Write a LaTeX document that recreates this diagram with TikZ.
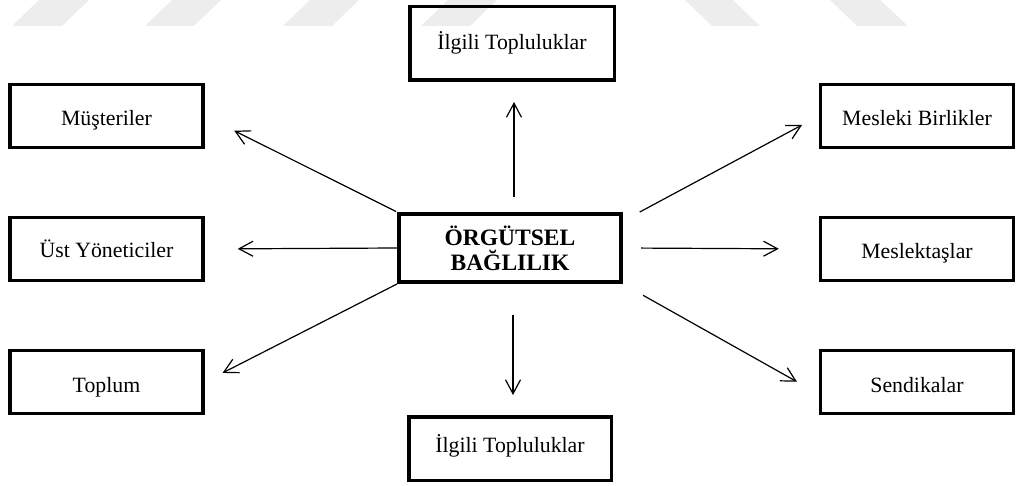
\documentclass[tikz,border=0pt]{standalone}
\usepackage{fontspec}
\setmainfont{Liberation Serif}
\usetikzlibrary{arrows.meta}
\begin{document}
\begin{tikzpicture}[x=1pt,y=-1pt,
  wm/.style={fill=black!7, draw=none},
  box/.style={draw, line width=3.5pt, inner sep=0pt,
    minimum width=193pt, minimum height=63pt,
    text height=20pt, text depth=0pt,
    font=\fontsize{21.8}{24}\selectfont},
  hub/.style={draw, line width=4pt, inner sep=0pt, align=center,
    minimum width=222pt, minimum height=68pt,
    font=\fontsize{23.5}{25}\selectfont\bfseries},
  arr/.style={line width=1.2pt, -{Straight Barb[length=14pt,width=15pt]}}]
\useasboundingbox (0,0) rectangle (1023,486);

% faint slanted bars along the top edge
\fill[wm] (12,26) -- (39,0) -- (89,0) -- (62,26) -- cycle;
\fill[wm] (145,26) -- (172,0) -- (221,0) -- (194,26) -- cycle;
\fill[wm] (283,26) -- (310,0) -- (359,0) -- (332,26) -- cycle;
\fill[wm] (421,26) -- (448,0) -- (497,0) -- (470,26) -- cycle;
\fill[wm] (685,0) -- (733,0) -- (760,26) -- (712,26) -- cycle;
\fill[wm] (830,0) -- (880,0) -- (908,26) -- (857,26) -- cycle;

% central box
\node[hub] (cen) at (510,248) {ÖRGÜTSEL\\BAĞLILIK};

% surrounding boxes
\node[box, minimum width=204.5pt, minimum height=73.5pt, text height=13pt] (top) at (512,43.5) {İlgili Topluluklar};
\node[box, minimum width=202.5pt, minimum height=63.5pt, text height=8pt] (bot) at (510,448.5) {İlgili Topluluklar};
\node[box] (mus) at (106.5,116) {Müşteriler};
\node[box, text height=18pt] (ust) at (106.5,249) {Üst Yöneticiler};
\node[box] (tpl) at (106.5,382) {Toplum};
\node[box] (mbr) at (917,116) {Mesleki Birlikler};
\node[box] (mkt) at (917,249) {Meslektaşlar};
\node[box] (sen) at (917,382) {Sendikalar};

% connectors
\draw[arr, shorten <=15pt, shorten >=20pt] ([xshift=4pt]cen.north) -- ([xshift=2pt]top.south);
\draw[arr, shorten <=31pt, shorten >=20pt] ([xshift=3pt]cen.south) -- ([xshift=3pt]bot.north);
\draw[arr, shorten <=1pt, shorten >=33pt] (cen.north west) -- (mus.east);
\draw[arr, shorten >=33pt] (cen.west) -- (ust.east);
\draw[arr, shorten >=20pt] (cen.south west) -- (tpl.east);
\draw[arr, shorten <=19pt, shorten >=19pt] ([yshift=-9pt]cen.north east) -- (mbr.west);
\draw[arr, shorten <=18pt, shorten >=40pt] (cen.east) -- (mkt.west);
\draw[arr, shorten <=23pt, shorten >=25pt] (cen.south east) -- ([yshift=-12pt]sen.west);
\end{tikzpicture}
\end{document}
